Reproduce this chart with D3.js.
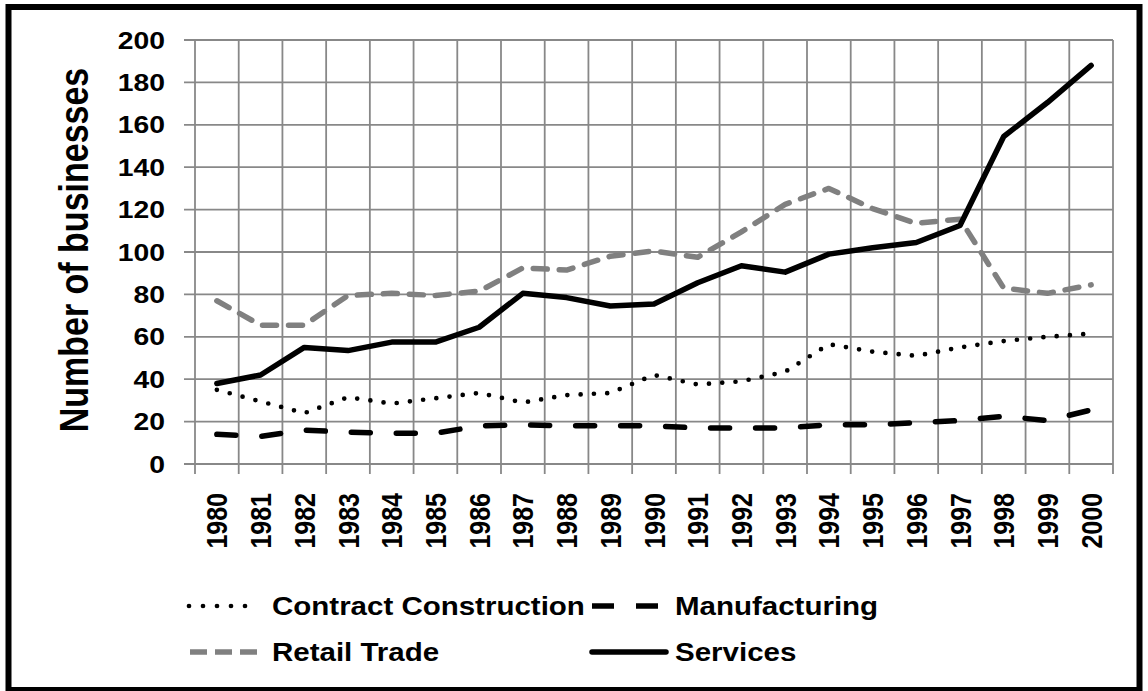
<!DOCTYPE html>
<html>
<head>
<meta charset="utf-8">
<script src="https://cdn.jsdelivr.net/npm/d3@7"></script>
<style>
  html, body { margin: 0; padding: 0; background: #fff; }
  svg text { font-family: "Liberation Sans", Arial, sans-serif; font-weight: bold; fill: #000; }
</style>
</head>
<body>
<svg id="chart" width="1148" height="691"></svg>
<script>
const years = ["1980","1981","1982","1983","1984","1985","1986","1987","1988","1989","1990",
               "1991","1992","1993","1994","1995","1996","1997","1998","1999","2000"];
const construction = [35, 29.5, 24, 31.5, 28.5, 31, 33.5, 29, 32.5, 33.5, 42, 37.5, 39, 43.5, 56.5, 53, 51, 55, 58, 60, 61.5];
const manufacturing = [14, 13, 16, 15, 14.5, 14.5, 18, 18.5, 18, 18, 18, 17, 17, 17, 18.5, 18.5, 19.5, 20.5, 22.5, 20.5, 25.5];
const retail = [77, 65.5, 65.5, 79.5, 80.5, 79.5, 81.5, 92.5, 91.5, 98, 100.5, 97.5, 109.5, 122.5, 130, 120.5, 113.5, 115.5, 83, 80.5, 84.5];
const services = [38, 42, 55, 53.5, 57.5, 57.5, 64.5, 80.5, 78.5, 74.5, 75.5, 85.5, 93.5, 90.5, 99, 102, 104.5, 112.5, 154.5, 170.5, 188];
const yTicks = [0, 20, 40, 60, 80, 100, 120, 140, 160, 180, 200];

const stretch = 1.18; // text in the reference is widened horizontally

const svg = d3.select("#chart");

// outer frame
svg.append("rect")
    .attr("x", 8.5).attr("y", 7)
    .attr("width", 1131).attr("height", 683)
    .attr("fill", "none")
    .attr("stroke", "#000")
    .attr("stroke-width", 6);

const x = d3.scaleBand().domain(years).range([195, 1113]).padding(0);
const y = d3.scaleLinear().domain([0, 200]).range([464, 40]);
const cx = d => x(d) + x.bandwidth() / 2;

const grid = svg.append("g").attr("stroke", "#888").attr("stroke-width", 1.8);

// horizontal gridlines (with outside ticks)
grid.selectAll(".hline")
    .data(yTicks)
    .enter()
    .append("line")
    .attr("x1", 184).attr("x2", 1113)
    .attr("y1", d => y(d)).attr("y2", d => y(d));

// vertical gridlines at category boundaries (with ticks below axis)
const bounds = years.map(d => x(d)).concat([x.range()[1]]);
grid.selectAll(".vline")
    .data(bounds)
    .enter()
    .append("line")
    .attr("x1", d => d).attr("x2", d => d)
    .attr("y1", y(200)).attr("y2", 474);

// y tick labels
svg.selectAll(".ylab")
    .data(yTicks)
    .enter()
    .append("text")
    .attr("transform", d => `translate(165,${y(d)}) scale(${stretch},1)`)
    .attr("text-anchor", "end")
    .attr("dy", "0.36em")
    .attr("font-size", 24)
    .text(d => d);

// x tick labels (rotated)
svg.selectAll(".xlab")
    .data(years)
    .enter()
    .append("text")
    .attr("transform", d => `translate(${cx(d)},493) scale(${stretch},1) rotate(-90)`)
    .attr("text-anchor", "end")
    .attr("dy", "0.36em")
    .attr("font-size", 25)
    .text(d => d);

// y axis title
svg.append("text")
    .attr("transform", `translate(88,250) scale(${stretch},1) rotate(-90)`)
    .attr("text-anchor", "middle")
    .attr("font-size", 34)
    .text("Number of businesses");

const series = [
  { name: "Contract Construction", values: construction, color: "#000", width: 4.7, dash: "0 13.3", cap: "round" },
  { name: "Manufacturing", values: manufacturing, color: "#000", width: 5.5, dash: "19 26", cap: "round" },
  { name: "Retail Trade", values: retail, color: "#808080", width: 5.5, dash: "14 12", cap: "round" },
  { name: "Services", values: services, color: "#000", width: 5.5, dash: null, cap: "round" }
];

const line = d3.line()
    .x((d, i) => cx(years[i]))
    .y(d => y(d));

svg.selectAll(".series")
    .data(series)
    .enter()
    .append("path")
    .attr("class", "series")
    .attr("fill", "none")
    .attr("stroke", d => d.color)
    .attr("stroke-width", d => d.width)
    .attr("stroke-dasharray", d => d.dash)
    .attr("stroke-linecap", d => d.cap)
    .attr("stroke-linejoin", "round")
    .attr("d", d => line(d.values));

// legend
const legendPos = [
  { sx1: 189, sx2: 259, tx: 272, cy: 606 },
  { sx1: 592, sx2: 658, tx: 675, cy: 606 },
  { sx1: 190, sx2: 257, tx: 272, cy: 652 },
  { sx1: 592, sx2: 666, tx: 675, cy: 652 }
];
const legendDash = ["0 14", "22 22", "17 8", null];

const leg = svg.selectAll(".legend")
    .data(series)
    .enter()
    .append("g")
    .attr("class", "legend");

leg.append("line")
    .attr("x1", (d, i) => legendPos[i].sx1)
    .attr("x2", (d, i) => legendPos[i].sx2)
    .attr("y1", (d, i) => legendPos[i].cy)
    .attr("y2", (d, i) => legendPos[i].cy)
    .attr("stroke", d => d.color)
    .attr("stroke-width", d => d.width)
    .attr("stroke-dasharray", (d, i) => legendDash[i])
    .attr("stroke-linecap", (d, i) => i === 1 || i === 2 ? "butt" : "round");

leg.append("text")
    .attr("transform", (d, i) => `translate(${legendPos[i].tx},${legendPos[i].cy}) scale(${stretch},1)`)
    .attr("dy", "0.36em")
    .attr("font-size", 25)
    .text(d => d.name);
</script>
</body>
</html>
